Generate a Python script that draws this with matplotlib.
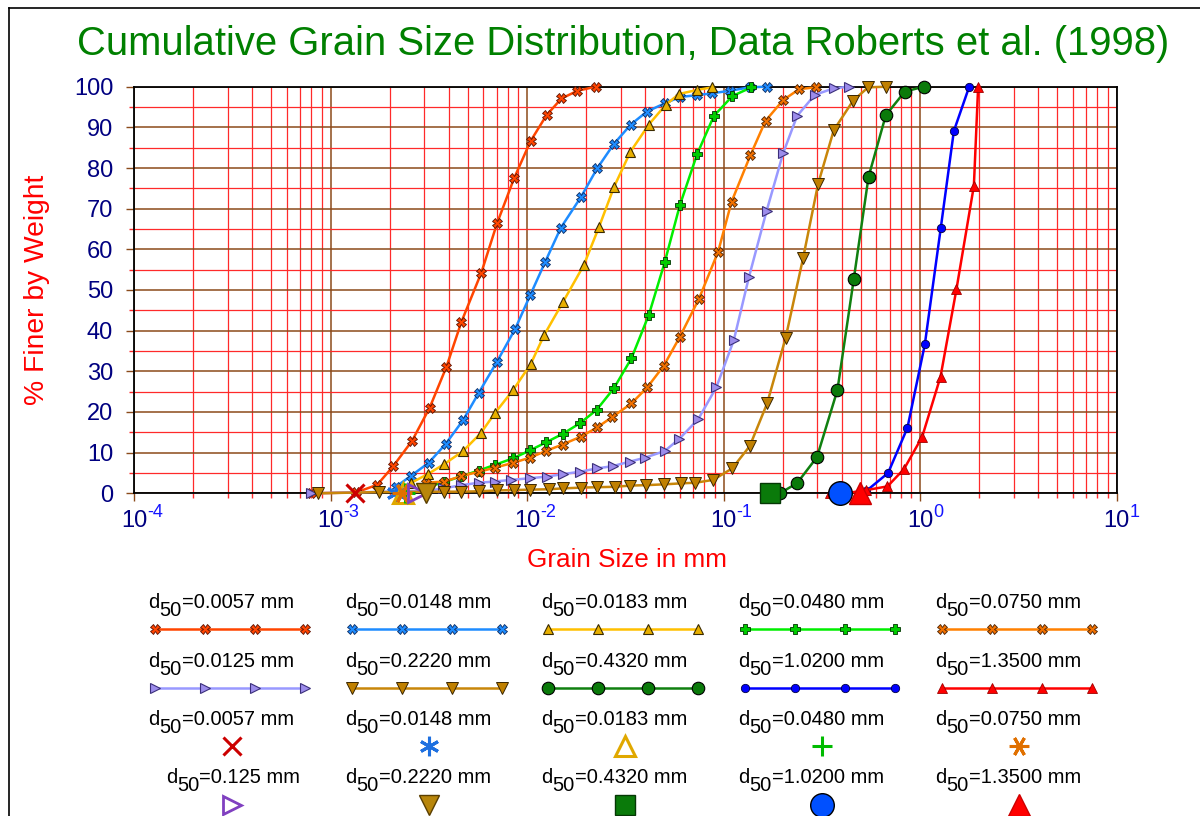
import matplotlib
matplotlib.use('Agg')
import matplotlib.pyplot as plt
import numpy as np
from matplotlib.lines import Line2D
from matplotlib.ticker import FixedLocator, NullFormatter

plt.rcParams['font.family'] = ['Liberation Sans', 'DejaVu Sans']

# ---------------- data ----------------
s1_x = [0.0008, 0.00135, 0.00173, 0.00208, 0.0026, 0.0032, 0.00389, 0.00464, 0.00586, 0.00704, 0.0086,
        0.01042, 0.01257, 0.01498, 0.01807, 0.0224]
s1_y = [0, 0.2, 2.1, 6.6, 12.9, 21.1, 31.1, 42.2, 54.3, 66.4, 77.5, 86.6, 93.0, 97.1, 99.0, 100]

s2_x = [0.00215, 0.00256, 0.00316, 0.00385, 0.00473, 0.00568, 0.00704, 0.0087, 0.0104, 0.0124, 0.01486,
        0.01878, 0.02275, 0.02765, 0.03376, 0.0408, 0.0502, 0.0604, 0.0734, 0.0879, 0.1077, 0.136, 0.1667]
s2_y = [1.6, 4.25, 7.5, 12.1, 18.0, 24.7, 32.4, 40.4, 48.8, 57.0, 65.3, 72.8, 79.9, 85.9, 90.7, 93.9,
        95.9, 97.5, 97.9, 98.4, 99.0, 99.85, 100]

s3_x = [0.00258, 0.00312, 0.00377, 0.00473, 0.00582, 0.00686, 0.0085, 0.01045, 0.01222, 0.01527, 0.01945,
        0.0233, 0.0277, 0.0336, 0.0417, 0.0507, 0.0593, 0.0734, 0.0879]
s3_y = [2.6, 4.7, 7.1, 10.4, 14.8, 19.7, 25.4, 31.8, 38.9, 47.1, 56.1, 65.6, 75.3, 84.0, 90.7, 95.5,
        98.2, 99.2, 99.85]

s4_x = [0.0031, 0.0038, 0.00464, 0.00568, 0.00686, 0.0085, 0.0104, 0.01247, 0.01516, 0.01856, 0.0226,
        0.02765, 0.034, 0.0417, 0.0502, 0.060, 0.0734, 0.0893, 0.111, 0.1388]
s4_y = [1.5, 2.8, 4.2, 5.6, 7.0, 8.6, 10.6, 12.5, 14.6, 17.2, 20.5, 25.8, 33.2, 43.9, 56.8, 70.9, 83.4,
        92.8, 97.7, 99.85]

s5_x = [0.00305, 0.0038, 0.00464, 0.0057, 0.00686, 0.0085, 0.0104, 0.01247, 0.01516, 0.01872, 0.02275,
        0.02723, 0.034, 0.041, 0.0497, 0.060, 0.0751, 0.0939, 0.1099, 0.1372, 0.1636, 0.201, 0.2427, 0.295]
s5_y = [2.6, 2.9, 4.25, 5.3, 6.3, 7.5, 8.8, 10.4, 12.0, 13.9, 16.2, 18.8, 22.1, 26.1, 31.4, 38.5, 47.9,
        59.4, 71.7, 83.2, 91.6, 96.7, 99.4, 99.85]

s6_x = [0.0008, 0.0031, 0.00374, 0.00464, 0.00568, 0.00686, 0.00827, 0.01033, 0.01257, 0.01516, 0.01856,
        0.0226, 0.0274, 0.0334, 0.0398, 0.0502, 0.0593, 0.0743, 0.092, 0.1129, 0.1346, 0.1656, 0.201,
        0.2368, 0.2915, 0.364, 0.4355]
s6_y = [0, 0.6, 1.2, 2.0, 2.6, 2.9, 3.3, 3.7, 4.1, 4.7, 5.3, 6.1, 6.7, 7.8, 8.75, 10.4, 13.3, 18.2, 26.1,
        37.7, 53.1, 69.4, 83.6, 92.8, 98.0, 99.6, 100]

s7_x = [0.00086, 0.00177, 0.0038, 0.00464, 0.0057, 0.007, 0.0086, 0.0104, 0.01296, 0.01516, 0.0189,
        0.02275, 0.028, 0.0336, 0.0401, 0.0497, 0.0611, 0.072, 0.0885, 0.1106, 0.136, 0.1667, 0.2068,
        0.254, 0.303, 0.364, 0.457, 0.545, 0.675]
s7_y = [0, 0.3, 0.4, 0.4, 0.5, 0.7, 0.8, 0.9, 1.0, 1.2, 1.4, 1.5, 1.6, 1.9, 2.0, 2.2, 2.45, 2.6, 3.3,
        6.1, 11.6, 22.1, 38.1, 57.8, 76.1, 89.3, 96.6, 99.85, 100]

s8_x = [0.1935, 0.2369, 0.299, 0.380, 0.460, 0.547, 0.67, 0.837, 1.045]
s8_y = [0, 2.5, 8.9, 25.4, 52.6, 77.8, 93.0, 98.8, 100]

s9_x = [0.534, 0.688, 0.863, 1.058, 1.276, 1.487, 1.78]
s9_y = [0.6, 5.0, 16.1, 36.6, 65.3, 89.1, 100]

s10_x = [0.3475, 0.42, 0.534, 0.683, 0.830, 1.026, 1.272, 1.533, 1.88, 1.976]
s10_y = [0, 0, 0.8, 1.7, 6.0, 13.9, 28.7, 50.2, 75.6, 99.85]

# single-point d50 markers (drawn at 0 % finer)
point_x = [0.00133, 0.00215, 0.00233, 0.00239, 0.0023, 0.00274, 0.00307, 0.1725, 0.3935, 0.494]
point_y = [0, 0, 0, 0, 0, 0, 0, 0, 0, 0]

line_labels = ['0.0057', '0.0148', '0.0183', '0.0480', '0.0750',
               '0.0125', '0.2220', '0.4320', '1.0200', '1.3500']
point_labels = ['0.0057', '0.0148', '0.0183', '0.0480', '0.0750',
                '0.125', '0.2220', '0.4320', '1.0200', '1.3500']

x_decades = [-4, -3, -2, -1, 0, 1]
y_ticks = [0, 10, 20, 30, 40, 50, 60, 70, 80, 90, 100]
y_minor = [5, 15, 25, 35, 45, 55, 65, 75, 85, 95]

# ---------------- styles ----------------
line_styles = [
    dict(color='#FF4500', marker='X', mfc='#FF4500', mec='#5a1000', ms=6.5, mew=0.6),
    dict(color='#1E8CFF', marker='X', mfc='#1E8CFF', mec='#0a2a60', ms=6.5, mew=0.6),
    dict(color='#FFC000', marker='^', mfc='#E8B000', mec='#3a2a00', ms=7, mew=0.8),
    dict(color='#00EE00', marker='P', mfc='#00CC00', mec='#003300', ms=6.5, mew=0.6),
    dict(color='#FF8000', marker='X', mfc='#F07000', mec='#4a2000', ms=6.5, mew=0.6),
    dict(color='#9999FF', marker='>', mfc='#9C8CEB', mec='#3b2f7a', ms=7, mew=0.8),
    dict(color='#C8860A', marker='v', mfc='#C08000', mec='#3a2600', ms=8, mew=0.7),
    dict(color='#108010', marker='o', mfc='#0A7A0A', mec='#000000', ms=9, mew=0.8),
    dict(color='#0000FF', marker='o', mfc='#0000FF', mec='#000040', ms=6, mew=0.6),
    dict(color='#FF0000', marker='^', mfc='#FF0000', mec='#A00000', ms=7.5, mew=0.6),
]
point_styles = [
    dict(marker='x', color='#CC0000', ms=13, mew=2.2),
    dict(marker=(6, 2, 0), color='#1E70E0', ms=14, mew=2.2),
    dict(marker='^', mfc='none', mec='#E0A800', ms=14, mew=2.2),
    dict(marker='+', color='#00BB00', ms=14, mew=2.2),
    dict(marker=(6, 2, 90), color='#E07000', ms=14, mew=2.2),
    dict(marker='>', mfc='none', mec='#8040C0', ms=13, mew=2.0),
    dict(marker='v', mfc='#B8860B', mec='#5a3e00', ms=15, mew=1.0),
    dict(marker='s', mfc='#0A7A0A', mec='#053805', ms=15, mew=1.0),
    dict(marker='o', mfc='#0050FF', mec='#000000', ms=17, mew=1.0),
    dict(marker='^', mfc='#FF0000', mec='#CC0000', ms=16, mew=1.0),
]

W, H = 1200, 816
fig = plt.figure(figsize=(W / 100, H / 100), dpi=100)
fx = lambda px: px / W
fy = lambda py: 1 - py / H

ax = fig.add_axes([fx(134), fy(493.3), fx(1116.5) - fx(134), fy(86.7) - fy(493.3)])
ax.set_xscale('log')
ax.set_xlim(10.0 ** x_decades[0], 10.0 ** x_decades[-1])
ax.set_ylim(0, 100)

major_x = [10.0 ** e for e in x_decades]
minor_x = [m * 10.0 ** e for e in x_decades[:-1] for m in range(2, 10)]
ax.xaxis.set_major_locator(FixedLocator(major_x))
ax.xaxis.set_minor_locator(FixedLocator(minor_x))
ax.xaxis.set_major_formatter(NullFormatter())
ax.xaxis.set_minor_formatter(NullFormatter())
ax.yaxis.set_major_locator(FixedLocator(y_ticks))
ax.yaxis.set_minor_locator(FixedLocator(y_minor))
ax.set_yticklabels([str(v) for v in y_ticks])

ax.grid(True, which='minor', color='#FF2a2a', lw=0.9, zorder=0)
ax.grid(True, which='major', color='#8B4A1A', lw=1.1, zorder=0)
ax.set_axisbelow(True)
ax.tick_params(which='major', length=6, width=1, color='#8B4A1A', direction='out',
               labelsize=17, labelcolor='#000080', pad=9)
ax.tick_params(which='minor', length=3.5, width=1, color='#FF2a2a', direction='out')
for sp in ax.spines.values():
    sp.set_color('black')
    sp.set_linewidth(1.3)
    sp.set_zorder(2.5)

# x tick labels 10^n with two colours
for e in x_decades:
    ax.annotate('10', xy=(10.0 ** e, 0), xycoords=('data', 'axes fraction'),
                xytext=(0, -17 * 0.72), textcoords='offset points', ha='center', va='top',
                fontsize=17, color='#000080', annotation_clip=False)
    ax.annotate(str(e), xy=(10.0 ** e, 0), xycoords=('data', 'axes fraction'),
                xytext=(13 * 0.72, -11 * 0.72), textcoords='offset points', ha='left', va='top',
                fontsize=13, color='#1515FF', annotation_clip=False)

series_x = [s1_x, s2_x, s3_x, s4_x, s5_x, s6_x, s7_x, s8_x, s9_x, s10_x]
series_y = [s1_y, s2_y, s3_y, s4_y, s5_y, s6_y, s7_y, s8_y, s9_y, s10_y]
line_handles = []
for xs, ys, st in zip(series_x, series_y, line_styles):
    h, = ax.plot(xs, ys, lw=1.8, clip_on=False, zorder=3, **st)
    line_handles.append(h)

point_handles = []
for xv, yv, st in zip(point_x, point_y, point_styles):
    h, = ax.plot([xv], [yv], ls='none', clip_on=False, zorder=4, **st)
    point_handles.append(h)

# titles / labels
fig.text(fx(623), fy(55), 'Cumulative Grain Size Distribution, Data Roberts et al. (1998)',
         ha='center', va='baseline', color='#008000', fontsize=28.8)
fig.text(fx(627), fy(560), 'Grain Size in mm', ha='center', va='center', color='#FF0000', fontsize=18.8)
fig.text(fx(37), fy(290), '% Finer by Weight', ha='center', va='center', rotation=90,
         color='#FF0000', fontsize=20.3)

# figure frame (chart is cropped at right/bottom)
fig.add_artist(Line2D([fx(9), fx(9)], [fy(816), fy(8)], transform=fig.transFigure, color='black', lw=1.2))
fig.add_artist(Line2D([fx(9), fx(1200)], [fy(8), fy(8)], transform=fig.transFigure, color='black', lw=1.2))

# ---------------- legend (label above sample) ----------------
renderer = fig.canvas.get_renderer()


def label_pieces(val, cx, base_y, fs=14.5):
    pieces = [('d', 0), ('50', 8), ('=' + val + ' mm', 0)]
    objs = []
    widths = []
    for s, dy in pieces:
        t = fig.text(0, 0, s, fontsize=fs, color='black', ha='left', va='baseline')
        widths.append(t.get_window_extent(renderer).width)
        objs.append((t, dy))
    x = cx - sum(widths) / 2
    for (t, dy), w in zip(objs, widths):
        t.set_position((fx(x), fy(base_y + dy)))
        x += w


col_c = [230, 427, 623, 820, 1017]
text_base = [608, 667, 725, 783]
sample_y = [629, 688, 746, 805]
for i in range(10):
    r, c = divmod(i, 5)
    label_pieces(line_labels[i], col_c[c] - 9, text_base[r])
    xs = np.linspace(col_c[c] - 75, col_c[c] + 75, 4)
    ln = Line2D([fx(v) for v in xs], [fy(sample_y[r])] * 4, transform=fig.transFigure)
    ln.update_from(line_handles[i])
    ln.set_transform(fig.transFigure)
    fig.add_artist(ln)
for i in range(10):
    r, c = divmod(i, 5)
    shift = 3 if point_labels[i] == '0.125' else -9
    label_pieces(point_labels[i], col_c[c] + shift, text_base[r + 2])
    mk = Line2D([fx(col_c[c] + 2)], [fy(sample_y[r + 2])], transform=fig.transFigure)
    mk.update_from(point_handles[i])
    mk.set_transform(fig.transFigure)
    fig.add_artist(mk)

fig.savefig('out.png', dpi=100)
